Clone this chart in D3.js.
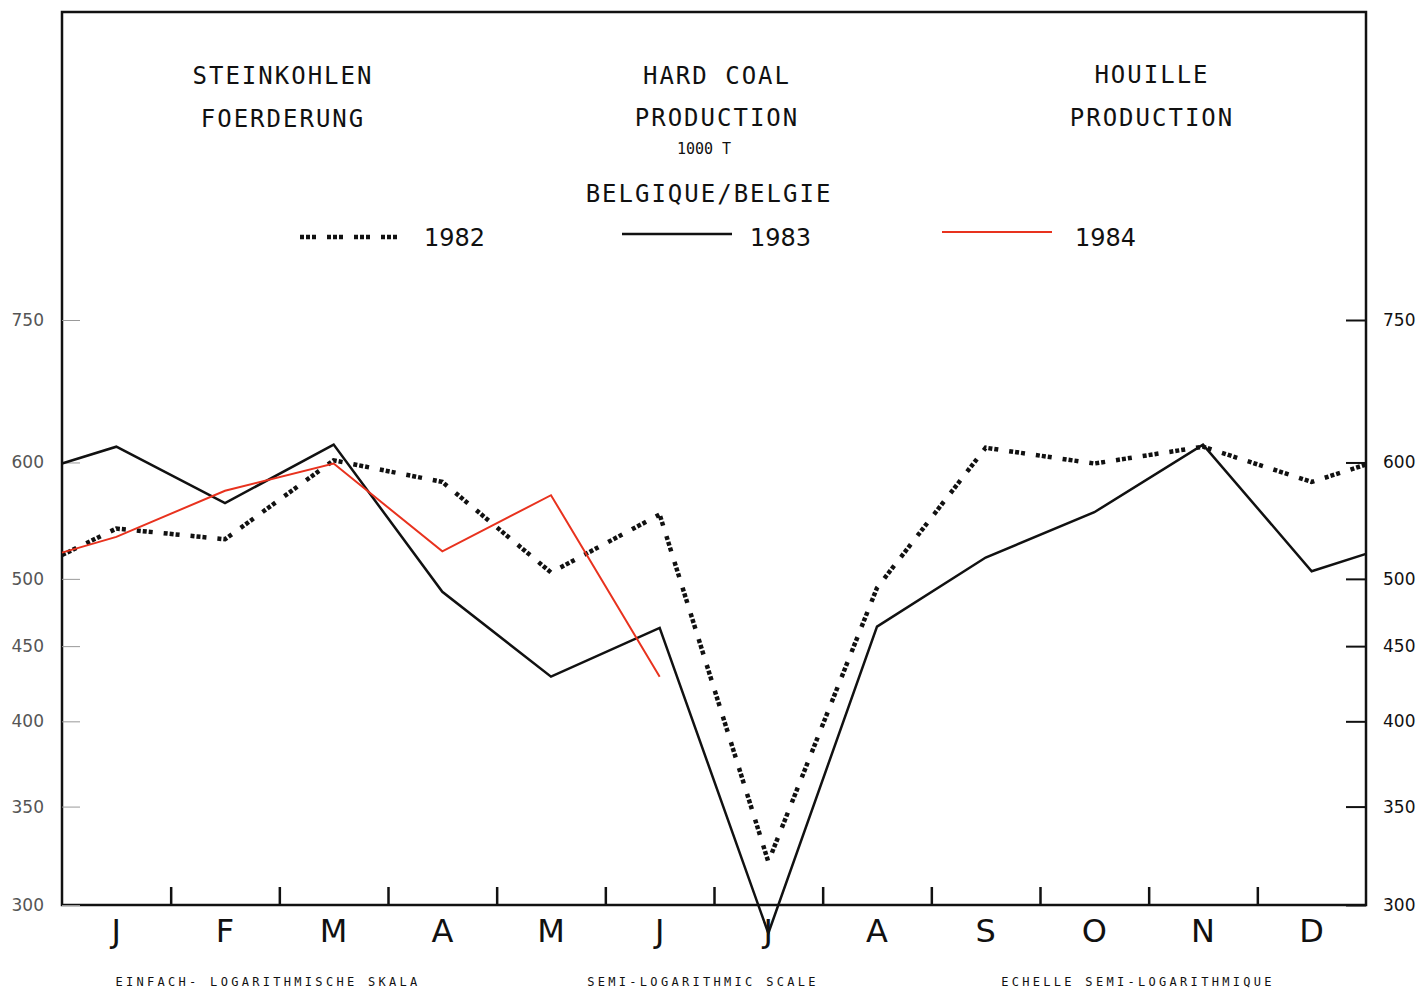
<!DOCTYPE html>
<html>
<head>
<meta charset="utf-8">
<script src="https://cdn.jsdelivr.net/npm/d3@7"></script>
<style>
  body { margin: 0; background: #fff; }
  svg { display: block; }
  .mono { font-family: "DejaVu Sans Mono", monospace; fill: #111; }
</style>
</head>
<body>
<svg width="1418" height="989"></svg>
<script>
/* data: first value = left edge, last value = right edge */
let months = ['J','F','M','A','M','J','J','A','S','O','N','D'];
let edgeIdx = [-0.5, 0, 1, 2, 3, 4, 5, 6, 7, 8, 9, 10, 11, 11.5];
let prod1982 = [519, 541, 532, 602, 582, 505, 553, 321, 493, 614, 599, 615, 582, 598];
let prod1983 = [599, 615, 563, 617, 490, 429, 463, 287, 464, 517, 555, 617, 506, 520];
let prod1984 = [521, 534, 574, 599, 522, 570, 429];
let yTicks = [300, 350, 400, 450, 500, 600, 750];

let svg = d3.select('svg'),
  padL = 62, padR = 1366, padT = 12, padB = 905;

let x = d3.scaleLinear().domain([-0.5, 11.5]).range([padL, padR]);
let y = d3.scaleLog().domain([300, 750]).range([padB, 320]);

let line = d3.line()
  .x((d) => x(d.i))
  .y((d) => y(d.v));

let pts = (vals) => vals.map((v, k) => ({ i: edgeIdx[k], v: v }));

/* frame */
svg.append('rect')
  .attr('x', padL).attr('y', padT)
  .attr('width', padR - padL).attr('height', padB - padT)
  .attr('fill', 'none').attr('stroke', '#111').attr('stroke-width', 2.5);

/* y axes */
let yl = svg.append('g').attr('transform', 'translate(' + padL + ',0)')
  .call(d3.axisLeft(y).tickValues(yTicks).tickSizeInner(-18).tickSizeOuter(0).tickPadding(18).tickFormat(d3.format('d')));
yl.select('.domain').remove();
yl.selectAll('line').attr('stroke', '#999').attr('stroke-width', 1);
yl.selectAll('text').attr('font-family', 'DejaVu Sans').attr('font-size', 17).attr('fill', '#555');

let yr = svg.append('g').attr('transform', 'translate(' + padR + ',0)')
  .call(d3.axisRight(y).tickValues(yTicks).tickSizeInner(-20).tickSizeOuter(0).tickPadding(17).tickFormat(d3.format('d')));
yr.select('.domain').remove();
yr.selectAll('line').attr('stroke', '#111').attr('stroke-width', 2);
yr.selectAll('text').attr('font-family', 'DejaVu Sans').attr('font-size', 17).attr('fill', '#111');

/* month boundaries and labels */
let xb = svg.append('g').attr('transform', 'translate(0,' + padB + ')')
  .call(d3.axisBottom(x).tickValues(d3.range(0.5, 11, 1)).tickSizeInner(-18).tickSizeOuter(0).tickFormat(''));
xb.select('.domain').remove();
xb.selectAll('line').attr('stroke', '#111').attr('stroke-width', 2.5);

svg.append('g').selectAll('text')
  .data(months)
  .enter().append('text')
  .attr('x', (d, i) => x(i))
  .attr('y', 942)
  .attr('text-anchor', 'middle')
  .attr('font-family', 'DejaVu Sans')
  .attr('font-size', 32)
  .attr('fill', '#111')
  .text((d) => d);

/* series */
svg.append('path').datum(pts(prod1982))
  .attr('d', line).attr('fill', 'none')
  .attr('stroke', '#111').attr('stroke-width', 4.5)
  .attr('stroke-dasharray', '4,2,4,2,4,11');

svg.append('path').datum(pts(prod1983))
  .attr('d', line).attr('fill', 'none')
  .attr('stroke', '#111').attr('stroke-width', 2.5);

svg.append('path').datum(pts(prod1984))
  .attr('d', line).attr('fill', 'none')
  .attr('stroke', '#e8321e').attr('stroke-width', 2);

/* titles */
let titles = [
  { t: 'STEINKOHLEN', x: 282, y: 84 },
  { t: 'FOERDERUNG', x: 282, y: 127 },
  { t: 'HARD COAL', x: 716, y: 84 },
  { t: 'PRODUCTION', x: 716, y: 126 },
  { t: 'BELGIQUE/BELGIE', x: 708, y: 202 },
  { t: 'HOUILLE', x: 1151, y: 83 },
  { t: 'PRODUCTION', x: 1151, y: 126 }
];
svg.append('g').selectAll('text')
  .data(titles)
  .enter().append('text')
  .attr('class', 'mono')
  .attr('x', (d) => d.x + 1)
  .attr('y', (d) => d.y)
  .attr('text-anchor', 'middle')
  .attr('font-size', 24)
  .attr('letter-spacing', 2)
  .text((d) => d.t);

svg.append('text').attr('class', 'mono')
  .attr('x', 704).attr('y', 154)
  .attr('text-anchor', 'middle')
  .attr('font-size', 15)
  .text('1000 T');

/* legend */
let legend = [
  { name: '1982', x1: 300, x2: 405, y: 237, tx: 424, dash: '4,2,4,2,4,11', w: 4.5, c: '#111' },
  { name: '1983', x1: 622, x2: 732, y: 234, tx: 750, dash: null, w: 2.5, c: '#111' },
  { name: '1984', x1: 942, x2: 1052, y: 232, tx: 1075, dash: null, w: 2, c: '#e8321e' }
];
let lg = svg.append('g').selectAll('g').data(legend).enter().append('g');
lg.append('line')
  .attr('x1', (d) => d.x1).attr('x2', (d) => d.x2)
  .attr('y1', (d) => d.y).attr('y2', (d) => d.y)
  .attr('stroke', (d) => d.c)
  .attr('stroke-width', (d) => d.w)
  .attr('stroke-dasharray', (d) => d.dash);
lg.append('text')
  .attr('x', (d) => d.tx).attr('y', 246)
  .attr('font-family', 'DejaVu Sans')
  .attr('font-size', 24)
  .attr('fill', '#111')
  .text((d) => d.name);

/* scale captions */
let captions = [
  { t: 'EINFACH- LOGARITHMISCHE SKALA', x: 266 },
  { t: 'SEMI-LOGARITHMIC SCALE', x: 701 },
  { t: 'ECHELLE SEMI-LOGARITHMIQUE', x: 1136 }
];
svg.append('g').selectAll('text')
  .data(captions)
  .enter().append('text')
  .attr('class', 'mono')
  .attr('x', (d) => d.x + 2)
  .attr('y', 986)
  .attr('text-anchor', 'middle')
  .attr('font-size', 12)
  .attr('letter-spacing', 3.3)
  .text((d) => d.t);
</script>
</body>
</html>
